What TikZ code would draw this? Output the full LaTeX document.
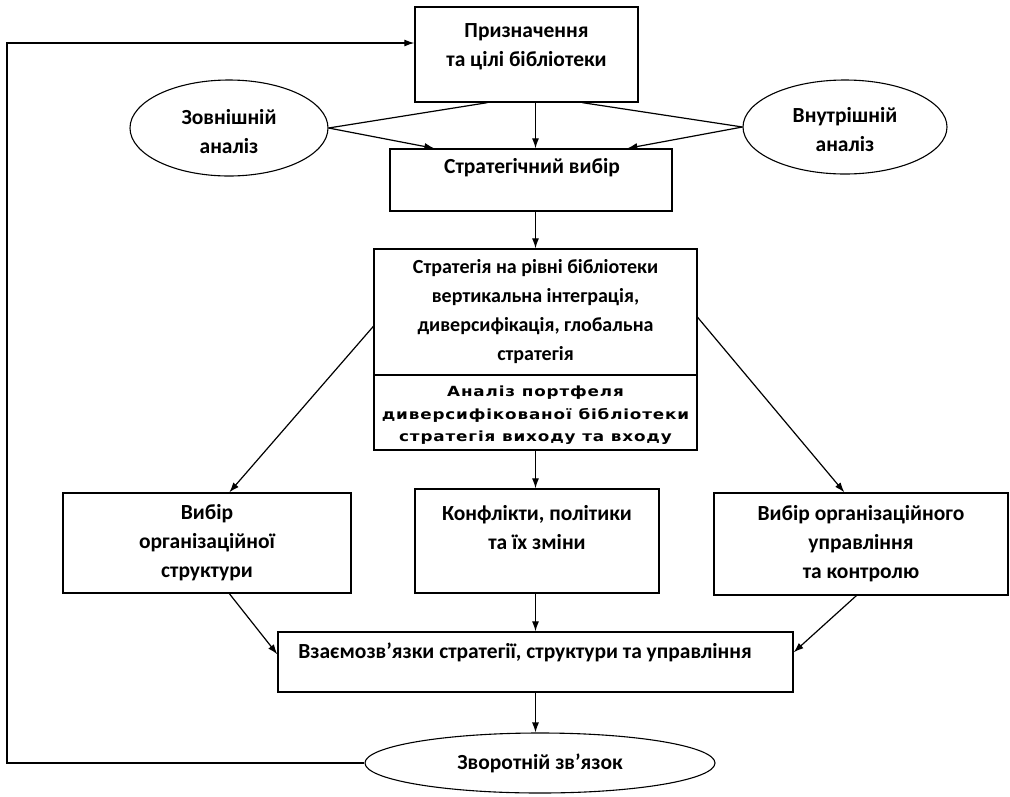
\documentclass[tikz,border=0pt]{standalone}
\usepackage{fontspec}
\setmainfont{Carlito}
\newfontfamily\lowfont[FakeStretch=1.2,LetterSpace=6]{DejaVu Sans}
\usetikzlibrary{arrows.meta,shapes.geometric,calc}
\tikzset{
  box/.style={draw, rectangle, line width=1.3pt, inner sep=0pt},
  ell/.style={draw, ellipse, line width=1.1pt, inner sep=0pt},
  txt/.style={font=\bfseries\fontsize{21.5}{29}\selectfont, align=center},
  bigtxt/.style={font=\bfseries\fontsize{20}{29}\selectfont, align=center},
  lowtxt/.style={font=\lowfont\bfseries\fontsize{14}{22.5}\selectfont, align=center},
  arr/.style={-{Latex[length=10pt,width=7pt]}, line width=1.2pt},
  ln/.style={line width=1.2pt}
}
\begin{document}
\begin{tikzpicture}[x=1pt,y=-1pt]
\useasboundingbox (0,0) rectangle (1010,796);
% boxes and ellipses
\node[box, minimum width=223pt, minimum height=95pt] (top) at (526.5,54.5) {};
\node[txt] (topT) at (526.5,47) {Призначення\\та цілі бібліотеки};
\node[ell, minimum width=198pt, minimum height=96pt] (ext) at (229,128) {};
\node[txt] (extT) at (229,132) {Зовнішній\\аналіз};
\node[ell, minimum width=204pt, minimum height=94pt] (int) at (845,127) {};
\node[txt] (intT) at (845,130) {Внутрішній\\аналіз};
\node[box, minimum width=282pt, minimum height=62pt] (sv) at (531,180) {};
\node[txt] (svT) at (532,168) {Стратегічний вибір};
\node[box, bigtxt, minimum width=323pt, minimum height=126pt] (big) at (535.5,312) {Стратегія на рівні бібліотеки\\вертикальна інтеграція,\\диверсифікація, глобальна\\стратегія};
\node[box, minimum width=323pt, minimum height=75pt] (port) at (535.5,412.5) {};
\node[lowtxt] (portT) at (535.5,415.5) {Аналіз портфеля\\диверсифікованої бібліотеки\\стратегія виходу та входу};
\node[box, txt, minimum width=288pt, minimum height=100pt] (lb) at (207,543) {Вибір\\організаційної\\структури};
\node[box, minimum width=244pt, minimum height=104pt] (mb) at (537,541) {};
\node[txt] (mbT) at (537,528) {Конфлікти, політики\\та їх зміни};
\node[box, txt, minimum width=294pt, minimum height=102pt] (rb) at (861,544) {Вибір організаційного\\управління\\та контролю};
\node[box, minimum width=515pt, minimum height=60pt] (vz) at (535.5,662) {};
\node[txt] (vzT) at (525,652) {Взаємозв’язки стратегії, структури та управління};
\node[ell, txt, minimum width=350pt, minimum height=60pt] (fb) at (540,763) {Зворотній зв’язок};
% connectors
\coordinate (tl) at (7,43);
\draw[arr] (fb.west) -| (tl) -- (tl -| top.west);
\draw[ln] (ext.east) -- ($(top.south west)+(73,0)$);
\draw[arr] (ext.east) -- ($(sv.north west)+(45,0)$);
\draw[ln] (int.west) -- ($(top.south west)+(168,0)$);
\draw[arr] (int.west) -- ($(sv.north west)+(238,0)$);
\draw[arr] (top.south -| big.north) -- (sv.north -| big.north);
\draw[arr] (sv.south -| big.north) -- (big.north);
\draw[arr] (port.south) -- (mb.north -| port.south);
\draw[arr] ($(big.north west)+(0,78)$) -- ($(lb.north west)+(167,0)$);
\draw[arr] ($(big.north east)+(0,69)$) -- ($(rb.north west)+(131,0)$);
\draw[arr] ($(lb.south west)+(167,0)$) -- ($(vz.north west)+(0,23)$);
\draw[arr] (mb.south -| vz.north) -- (vz.north);
\draw[arr] ($(rb.south west)+(143,0)$) -- ($(vz.north east)+(0,21)$);
\draw[arr] (vz.south) -- (vz.south |- fb.north);
\end{tikzpicture}
\end{document}
